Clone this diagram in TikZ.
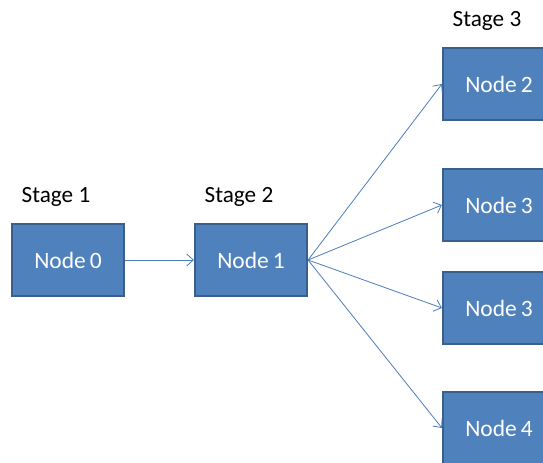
\documentclass[tikz,border=0pt]{standalone}
\usepackage{fontspec}
\setmainfont{Carlito}
\usetikzlibrary{arrows.meta}
\definecolor{boxfill}{HTML}{4F81BD}
\definecolor{boxedge}{HTML}{3A5F8C}
\definecolor{linkblue}{HTML}{4A7EBB}
\tikzset{
  stagebox/.style={draw=boxedge, line width=1.6pt, fill=boxfill, text=white,
    minimum width=84pt, minimum height=54pt, inner sep=0pt,
    font=\fontsize{17.6}{20}\selectfont},
  stagelabel/.style={text=black, inner sep=0pt, font=\fontsize{17.4}{20}\selectfont},
  link/.style={draw=linkblue, line width=0.6pt, -{Straight Barb[length=5pt,width=9pt]}}
}
\begin{document}
\begin{tikzpicture}[x=0.75pt, y=-0.75pt]
  \clip (0,0) rectangle (543,463);
  \fill[white] (0,0) rectangle (543,463);
  % stage headings
  \node[stagelabel] (s1) at (56,197) {Stage 1};
  \node[stagelabel] (s2) at (239,197) {Stage 2};
  \node[stagelabel] (s3) at (487,21) {Stage 3};
  % boxes
  \node[stagebox] (n0) at (68,260) {Node\,0};
  \node[stagebox] (n1) at (251,260) {Node\,1};
  \node[stagebox] (n2) at (499,84) {Node\,2};
  \node[stagebox] (n3a) at (499,205) {Node\,3};
  \node[stagebox] (n3b) at (499,308) {Node\,3};
  \node[stagebox] (n4) at (499,428) {Node\,4};
  % connectors
  \draw[link] (n0.east) -- (n1.west);
  \draw[link] (n1.east) -- (n2.west);
  \draw[link] (n1.east) -- (n3a.west);
  \draw[link] (n1.east) -- (n3b.west);
  \draw[link] (n1.east) -- (n4.west);
\end{tikzpicture}
\end{document}
